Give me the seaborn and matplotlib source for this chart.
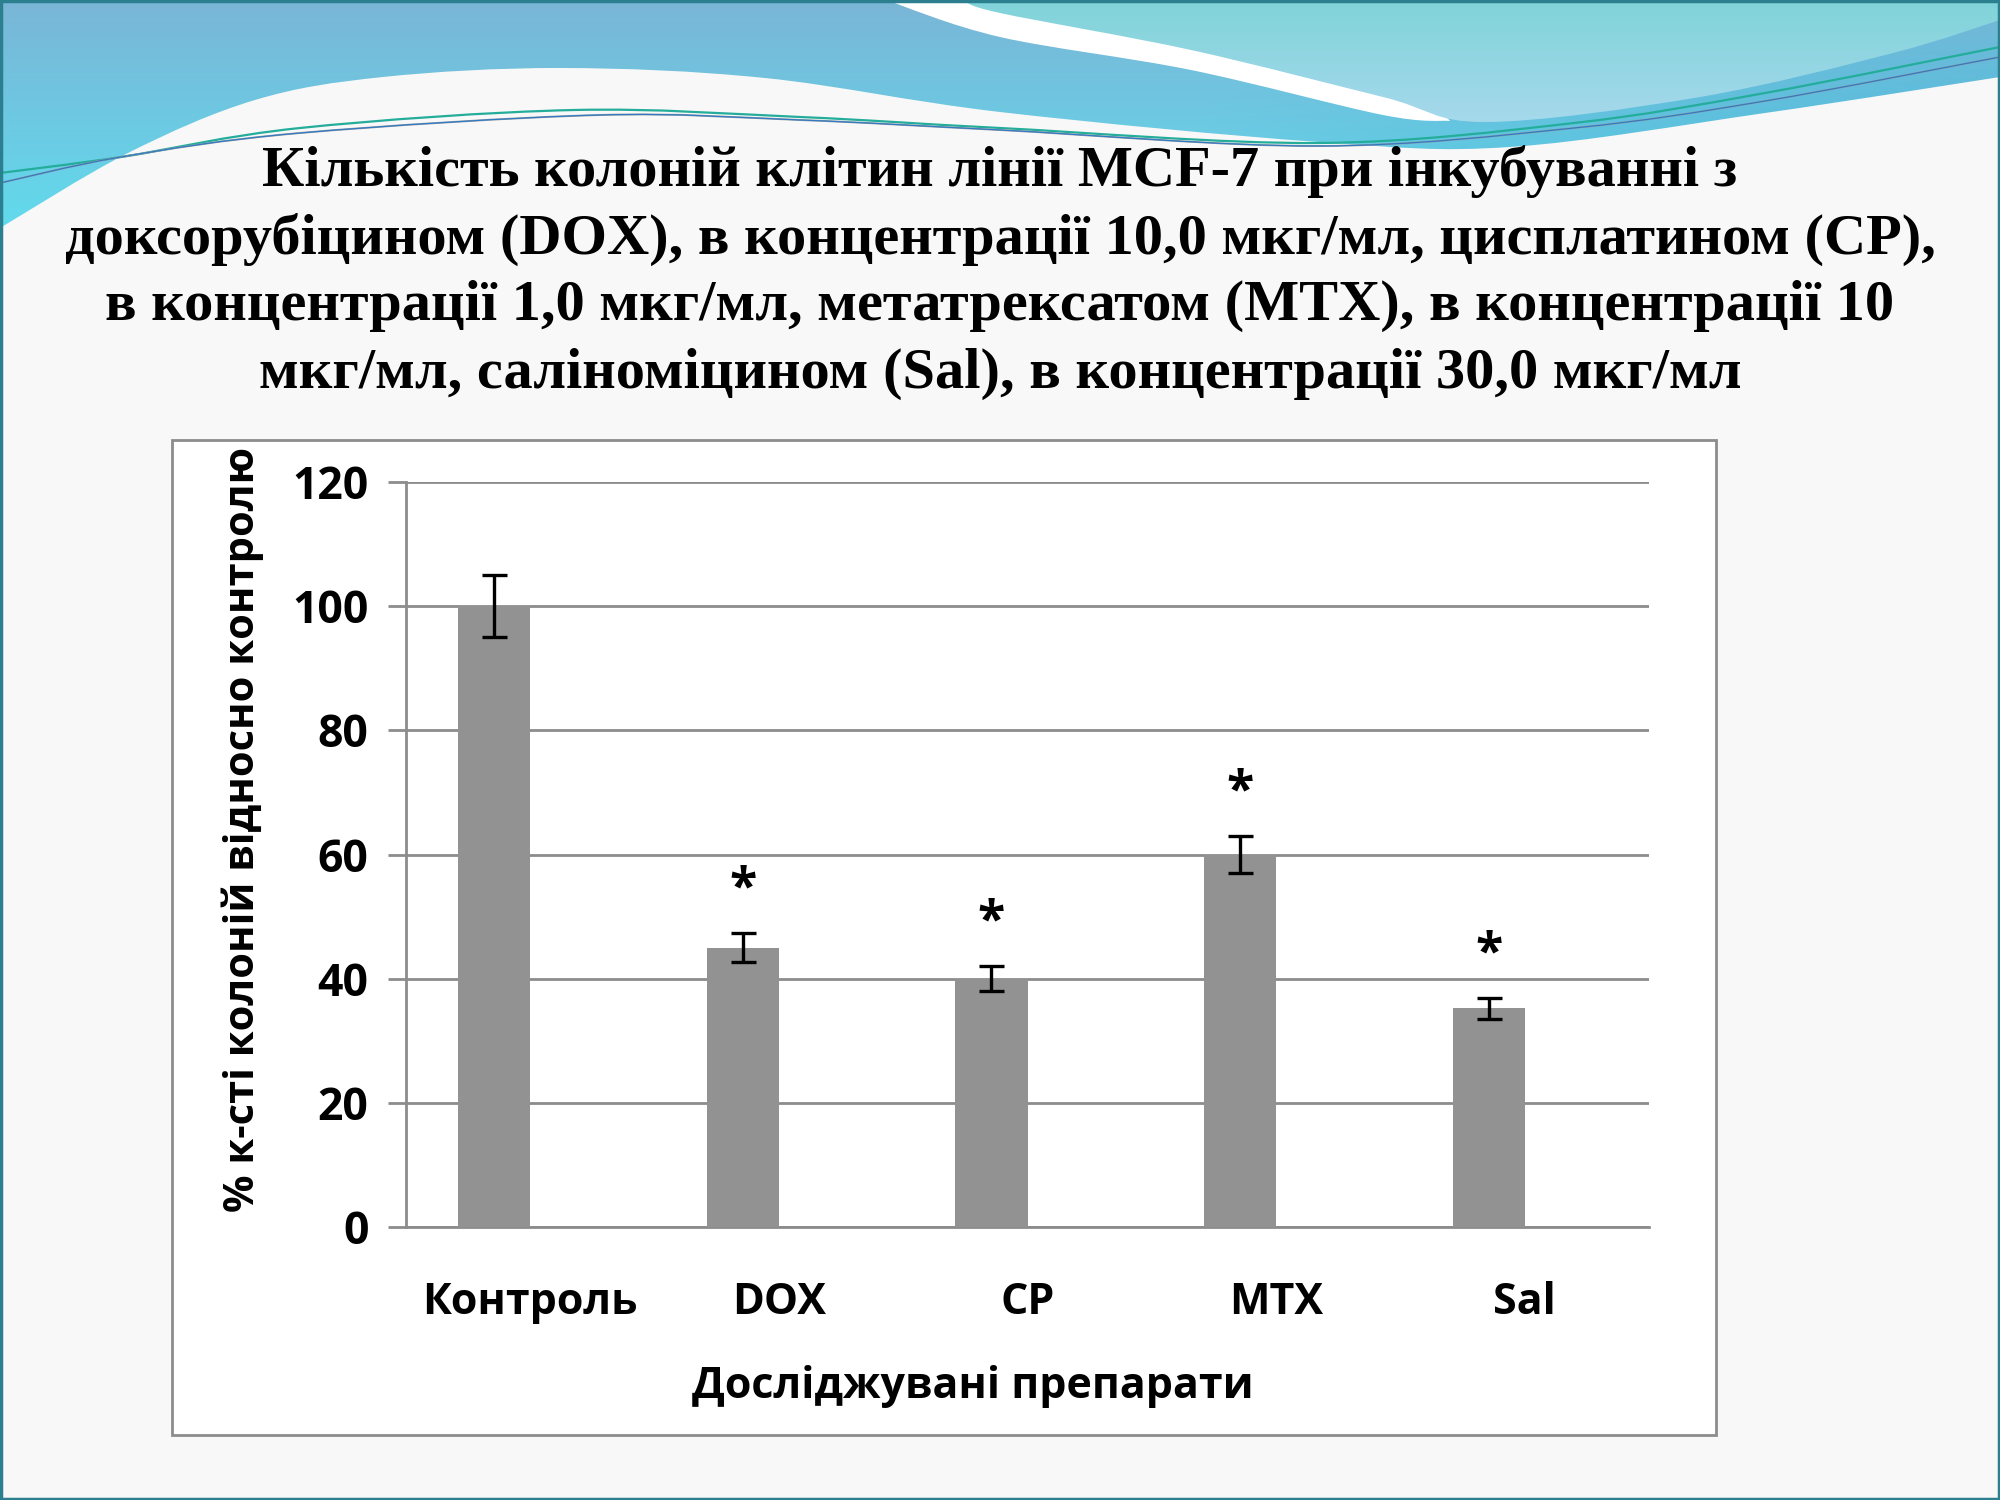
import numpy as np
import pandas as pd
import matplotlib
matplotlib.use("Agg")
import matplotlib.pyplot as plt
import seaborn as sns
from matplotlib.path import Path
from matplotlib.patches import PathPatch, Rectangle

# ---- data ----
categories = ["Контроль", "DOX", "CP", "MTX", "Sal"]
values = [100, 45, 40, 60, 35.2]
errors = [5, 2.3, 2, 3, 1.7]
significant = [False, True, True, True, True]
yticks = [0, 20, 40, 60, 80, 100, 120]

title_lines = [
    "Кількість колоній клітин лінії MCF-7 при інкубуванні з",
    "доксорубіцином (DOX), в концентрації 10,0 мкг/мл, цисплатином (CP),",
    "в концентрації 1,0 мкг/мл, метатрексатом (MTX), в концентрації 10",
    "мкг/мл, саліноміцином (Sal), в концентрації 30,0 мкг/мл",
]
y_label = "% к-сті колоній відносно контролю"
x_label = "Досліджувані препарати"

df = pd.DataFrame({"drug": categories, "pct": values})

sns.set_theme(style="white")
plt.rcParams["font.family"] = ["Open Sans", "DejaVu Sans"]
plt.rcParams["text.color"] = "black"
plt.rcParams["axes.labelcolor"] = "black"

W, H = 2000, 1500
fig = plt.figure(figsize=(20, 15), dpi=100)
fig.patch.set_facecolor("#f8f8f8")


def spline(pts):
    # catmull-rom through the points, as cubic bezier segments
    p = np.array(pts, dtype=float)
    ext = np.vstack([p[0], p, p[-1]])
    verts = [tuple(p[0])]
    codes = [Path.MOVETO]
    for i in range(1, len(ext) - 2):
        p0, p1, p2, p3 = ext[i - 1], ext[i], ext[i + 1], ext[i + 2]
        c1 = p1 + (p2 - p0) / 6
        c2 = p2 - (p3 - p1) / 6
        verts += [tuple(c1), tuple(c2), tuple(p2)]
        codes += [Path.CURVE4] * 3
    return verts, codes


def closed(edge_pts, extra):
    v, c = spline(edge_pts)
    for q in extra:
        v.append(q)
        c.append(Path.LINETO)
    v.append(v[0])
    c.append(Path.CLOSEPOLY)
    return Path(v, c)


# ---- slide decoration (pixel coordinates) ----
bg = fig.add_axes([0, 0, 1, 1], zorder=-5)
bg.set_xlim(0, W)
bg.set_ylim(H, 0)
bg.axis("off")

band = closed([(0, 228), (128, 153), (255, 100), (383, 77), (561, 68),
               (765, 78), (1000, 112), (1319, 142), (1510, 147),
               (1765, 113), (2000, 77)],
              [(2000, 0), (0, 0)])
gy, gx = np.mgrid[0:240, 0:400]
ty = np.clip(gy / 230, 0, 1)[..., None]
tx = np.clip((gx * 5 - 1200) / 800, 0, 1)[..., None]
c_top = np.array([0.48, 0.71, 0.84])
c_bot = np.array([0.38, 0.86, 0.93])
c_right = np.array([0.25, 0.69, 0.83])
img = c_top + (c_bot - c_top) * ty
img = img + (c_right - img) * tx * ty
band_patch = PathPatch(band, facecolor="none", edgecolor="none")
bg.add_patch(band_patch)
im = bg.imshow(img, extent=[0, W, 240, 0], aspect="auto", zorder=1)
im.set_clip_path(band_patch)

gap = closed([(886, 0), (1000, 37), (1191, 70), (1383, 115), (1450, 121)],
             [(1350, 0)])
bg.add_patch(PathPatch(gap, facecolor="white", edgecolor="none", zorder=2))

wave = closed([(963, 0), (1000, 13), (1191, 50), (1383, 97), (1485, 122),
               (1700, 97), (1893, 53), (2000, 20)],
              [(2000, 0)])
wave_patch = PathPatch(wave, facecolor="none", edgecolor="none")
bg.add_patch(wave_patch)
wy = np.linspace(0, 1, 130)[:, None, None]
w_top = np.array([0.50, 0.83, 0.85])
w_bot = np.array([0.66, 0.85, 0.93])
wimg = np.repeat(w_top + (w_bot - w_top) * wy, 4, axis=1)
wim = bg.imshow(wimg, extent=[900, W, 130, 0], aspect="auto", zorder=3)
wim.set_clip_path(wave_patch)

line_a = [(0, 173), (121, 157), (300, 128), (574, 110), (800, 117),
          (1000, 128), (1319, 143), (1574, 123), (1765, 93), (2000, 47)]
line_b = [(0, 183), (121, 157), (300, 133), (600, 115), (800, 120),
          (1000, 130), (1319, 146), (1574, 128), (1765, 101), (2000, 57)]
for pts, col, lw in [(line_a, "#24ad9a", 1.6), (line_b, "#8e9ca6", 1.4),
                     (line_b, "#2f78c4", 0.8)]:
    v, c = spline(pts)
    bg.add_patch(PathPatch(Path(v, c), facecolor="none", edgecolor=col,
                           lw=lw, zorder=4))

bg.add_patch(Rectangle((1, 1), W - 2, H - 2, facecolor="none",
                       edgecolor="#2b7f8f", lw=2.5, zorder=6))
bg.add_patch(Rectangle((172, 440), 1544, 995, facecolor="white",
                       edgecolor="#8c8c8c", lw=2, zorder=5))

title_y = [172, 239, 306, 374]
for line, y in zip(title_lines, title_y):
    fig.text(0.5, 1 - y / H, line, ha="center", va="center",
             fontsize=42, fontweight="bold", color="black",
             family=["Liberation Serif", "DejaVu Serif"])

# ---- chart ----
ax = fig.add_axes([406 / W, 1 - 1227 / H, 1243 / W, 745 / H])
ax.set_facecolor("white")
sns.barplot(data=df, x="drug", y="pct", color="#929292", saturation=1,
            width=0.29, linewidth=0, ax=ax, zorder=3)

# excel-style placement: bar sits left of the category centre
shift = -0.145
for bar in ax.patches:
    bar.set_x(bar.get_x() + shift)

pos = np.arange(len(categories)) + shift
ax.errorbar(pos, values, yerr=errors, fmt="none", ecolor="black",
            elinewidth=2.4, capsize=9, capthick=2.4, zorder=4)
for x, v, e, s in zip(pos, values, errors, significant):
    if s:
        ax.text(x, v + e + 7, "*", ha="center", va="center",
                fontsize=36, fontweight="bold", color="black")

ax.set_xlim(-0.5, len(categories) - 0.5)
ax.set_ylim(0, 120)
ax.set_yticks(yticks)
ax.yaxis.grid(True, color="#8c8c8c", lw=2)
ax.set_axisbelow(True)

for side in ["top", "right"]:
    ax.spines[side].set_visible(False)
for side in ["left", "bottom"]:
    ax.spines[side].set_color("#8c8c8c")
    ax.spines[side].set_linewidth(2)

ax.set_xticks(np.arange(-0.5, len(categories), 1), minor=True)
ax.tick_params(axis="x", which="major", length=0, labelsize=31, pad=39,
               labelcolor="black")
ax.tick_params(axis="x", which="minor", length=11, width=2, color="#8c8c8c")
ax.tick_params(axis="y", length=13, width=2, color="#8c8c8c",
               labelsize=32, pad=14, left=True, labelcolor="black")
for lab in ax.get_xticklabels() + ax.get_yticklabels():
    lab.set_fontweight("bold")

ax.set_xlabel(x_label, fontsize=31, fontweight="bold", color="black")
ax.set_ylabel(y_label, fontsize=30, fontweight="bold", color="black")
ax.xaxis.set_label_coords((973 - 406) / 1243, (1227 - 1386) / 745)
ax.xaxis.label.set_va("center")
ax.yaxis.set_label_coords((243 - 406) / 1243, (1227 - 829) / 745)
ax.yaxis.label.set_va("center")

fig.savefig("out.png", dpi=100, facecolor=fig.get_facecolor())
